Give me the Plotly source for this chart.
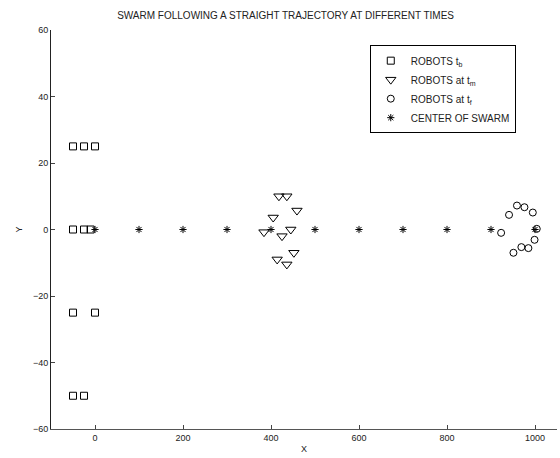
import plotly.graph_objects as go

# Robots at beginning time t_b
tb_x = [-50, -25, 0, -50, -25, -10, -50, 0, -50, -25]
tb_y = [25, 25, 25, 0, 0, 0, -25, -25, -50, -50]

# Robots at middle time t_m
tm_x = [418, 436, 405, 459, 384, 425, 445, 452, 414, 436]
tm_y = [10, 10, 3.6, 5.7, -0.8, -2, 0, -7, -9, -10.5]

# Robots at final time t_f
tf_x = [959, 976, 995, 941, 923, 1004, 999, 985, 969, 951]
tf_y = [7.2, 6.7, 5.1, 4.4, -1, 0.2, -3.1, -5.6, -5.3, -7]

# Center of swarm
c_x = [0, 100, 200, 300, 400, 500, 600, 700, 800, 900, 1000]
c_y = [0, 0, 0, 0, 0, 0, 0, 0, 0, 0, 0]

x_ticks = [0, 200, 400, 600, 800, 1000]
y_ticks = [-60, -40, -20, 0, 20, 40, 60]

FONT = "Liberation Sans, Arial, sans-serif"

fig = go.Figure()
fig.add_trace(go.Scatter(x=tb_x, y=tb_y, mode="markers", name="ROBOTS t<sub>b</sub>",
                         marker=dict(symbol="square-open", size=7, color="black",
                                     line=dict(width=1, color="black"))))
fig.add_trace(go.Scatter(x=tm_x, y=tm_y, mode="markers", name="ROBOTS at t<sub>m</sub>",
                         marker=dict(symbol="triangle-down-open", size=9, color="black",
                                     line=dict(width=1, color="black"))))
fig.add_trace(go.Scatter(x=tf_x, y=tf_y, mode="markers", name="ROBOTS at t<sub>f</sub>",
                         marker=dict(symbol="circle-open", size=7, color="black",
                                     line=dict(width=1, color="black"))))
fig.add_trace(go.Scatter(x=c_x, y=c_y, mode="markers", name="CENTER OF SWARM",
                         marker=dict(symbol="asterisk-open", size=6, color="black",
                                     line=dict(width=1, color="black"))))

fig.update_layout(
    width=560, height=458,
    margin=dict(l=51, r=3, t=30, b=29),
    paper_bgcolor="white", plot_bgcolor="white",
    font=dict(family=FONT, size=9, color="#222"),
    title=dict(text="SWARM FOLLOWING A STRAIGHT TRAJECTORY AT DIFFERENT TIMES",
               x=0.51, xanchor="center", y=0.967, yanchor="middle",
               font=dict(family=FONT, size=10, color="#222")),
    showlegend=True,
    legend=dict(x=0.63, y=0.962, xanchor="left", yanchor="top",
                bordercolor="black", borderwidth=1, bgcolor="white",
                font=dict(family=FONT, size=10, color="#222"),
                itemsizing="trace", entrywidth=128, entrywidthmode="pixels"),
    xaxis=dict(range=[-100, 1050], tickvals=x_ticks, ticks="inside", ticklen=4,
               showgrid=False, zeroline=False, showline=True, linecolor="#555",
               linewidth=1, mirror=False,
               title=dict(text="X", standoff=3, font=dict(size=9))),
    yaxis=dict(range=[-60, 60], tickvals=y_ticks, ticks="inside", ticklen=4,
               showgrid=False, zeroline=False, showline=True, linecolor="#222",
               linewidth=1, mirror=False,
               title=dict(text="Y", standoff=8, font=dict(size=9))),
)

fig.write_html("out.html", config={"displayModeBar": False},
               post_script="document.body.style.margin='0';")
